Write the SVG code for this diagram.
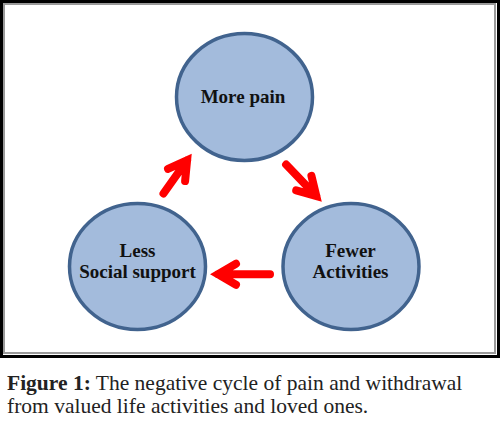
<svg xmlns="http://www.w3.org/2000/svg" width="500" height="422" viewBox="0 0 500 422">
  <style>
    .node { fill: #a3bbdc; stroke: #41638e; stroke-width: 3.5; }
    .label { font-family: "Liberation Serif", "Times New Roman", serif; font-weight: bold; font-size: 19px; fill: #111; text-anchor: middle; }
    .arrow { fill: none; stroke: #ff0000; stroke-width: 8; stroke-linecap: round; stroke-linejoin: miter; stroke-miterlimit: 6; }
    .cap { font-family: "Liberation Serif", "Times New Roman", serif; font-size: 21.5px; fill: #222; }
  </style>
  <rect x="0" y="0" width="500" height="422" fill="#ffffff"/>
  <g id="frame">
    <rect x="1.5" y="1.5" width="497" height="355" fill="#ffffff" stroke="#000000" stroke-width="3"/>
    <rect x="4" y="4" width="491" height="349" fill="none" stroke="#9a9a9a" stroke-width="2"/>
  </g>
  <g id="connectors">
    <path class="arrow" d="M163.5 193.5 L187.1 160.3 M168 168.8 L187.1 160.3 L185.1 181.1"/>
    <path class="arrow" d="M286.1 164.6 L316.3 196.1 M311.4 175.8 L316.3 196.1 L296.2 190.4"/>
    <path class="arrow" d="M270 274.3 L218 274.3 M236 263.8 L218 274.3 L236 284.8"/>
  </g>
  <g id="more-pain">
    <ellipse class="node" cx="244.5" cy="97" rx="68" ry="63.5"/>
    <text class="label" x="243" y="103">More pain</text>
  </g>
  <g id="less-social-support">
    <ellipse class="node" cx="137.5" cy="266.5" rx="68" ry="63"/>
    <text class="label" x="137.5" y="257">Less</text>
    <text class="label" x="137.5" y="278">Social support</text>
  </g>
  <g id="fewer-activities">
    <ellipse class="node" cx="351" cy="266.5" rx="68" ry="63"/>
    <text class="label" x="350.5" y="257">Fewer</text>
    <text class="label" x="350.5" y="278">Activities</text>
  </g>
  <g id="caption">
    <text class="cap" x="7" y="390"><tspan font-weight="bold">Figure 1:</tspan> The negative cycle of pain and withdrawal</text>
    <text class="cap" x="7" y="413">from valued life activities and loved ones.</text>
  </g>
</svg>
